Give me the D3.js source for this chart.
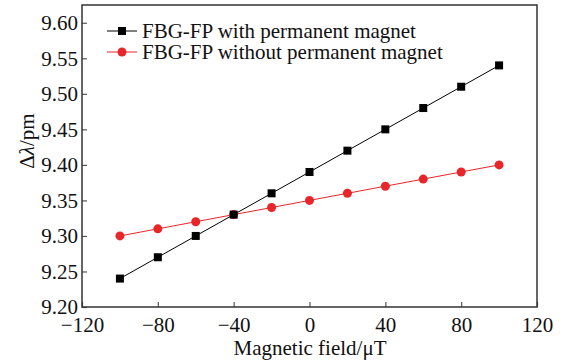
<!DOCTYPE html>
<html>
<head>
<meta charset="utf-8">
<script src="https://cdn.jsdelivr.net/npm/d3@7"></script>
<style>
body{margin:0;background:#fff}
svg{display:block}
text{font-family:"Liberation Serif","Times New Roman",serif;fill:#111}
</style>
</head>
<body>
<script>
var field = [-100, -80, -60, -40, -20, 0, 20, 40, 60, 80, 100];
var withMagnet = [9.24, 9.27, 9.30, 9.33, 9.36, 9.39, 9.42, 9.45, 9.48, 9.51, 9.54];
var withoutMagnet = [9.30, 9.31, 9.32, 9.33, 9.34, 9.35, 9.36, 9.37, 9.38, 9.39, 9.40];
var xTicks = [-120, -80, -40, 0, 40, 80, 120];
var yTicks = [9.20, 9.25, 9.30, 9.35, 9.40, 9.45, 9.50, 9.55, 9.60];
var seriesNames = ["FBG-FP with permanent magnet", "FBG-FP without permanent magnet"];

var W = 570, H = 362,
    L = 82, R = 537, T = 5, B = 307,
    fs = 21;

var svg = d3.select("body").append("svg").attr("width", W).attr("height", H);

var x = d3.scaleLinear().domain([-120, 120]).range([L, R]);
var y = d3.scaleLinear().domain([9.20, 9.625]).range([B, T]);

// axes, ticks inward
var xAxis = svg.append("g").attr("transform", "translate(0," + B + ")")
    .call(d3.axisBottom(x).tickValues(xTicks).tickSizeInner(-5).tickSizeOuter(0).tickPadding(6)
        .tickFormat(function(d){ return d < 0 ? "\u2212" + Math.abs(d) : d; }));
var yAxis = svg.append("g").attr("transform", "translate(" + L + ",0)")
    .call(d3.axisLeft(y).tickValues(yTicks).tickSizeInner(-5).tickSizeOuter(0).tickPadding(4)
        .tickFormat(d3.format(".2f")));
[xAxis, yAxis].forEach(function(g){
  g.select(".domain").remove();
  g.selectAll("line").attr("stroke", "#555").attr("stroke-width", 1.2);
  g.selectAll("text").attr("font-size", fs).attr("fill", "#111")
    .style("font-family", "'Liberation Serif', serif");
});
xAxis.selectAll("text").attr("dy", "0.9em");

svg.append("rect").attr("x", L).attr("y", T).attr("width", R - L).attr("height", B - T)
  .attr("fill", "none").attr("stroke", "#333").attr("stroke-width", 1.5);

// axis titles
svg.append("text").attr("x", 310).attr("y", 355).attr("text-anchor", "middle")
  .attr("font-size", fs).text("Magnetic field/\u03bcT");
svg.append("text").attr("transform", "translate(34,141) rotate(-90)")
  .attr("text-anchor", "middle").attr("font-size", fs)
  .html('\u0394<tspan font-style="italic">\u03bb</tspan>/pm');

var line = d3.line().x(function(d){ return x(d[0]); }).y(function(d){ return y(d[1]); });

function pts(vals){ return field.map(function(f, i){ return [f, vals[i]]; }); }

var black = "#000", red = "#e8262a";

// red series
svg.append("path").datum(pts(withoutMagnet)).attr("d", line)
  .attr("fill", "none").attr("stroke", red).attr("stroke-width", 1);
svg.selectAll(".c").data(pts(withoutMagnet)).enter().append("circle")
  .attr("cx", function(d){ return x(d[0]); }).attr("cy", function(d){ return y(d[1]); })
  .attr("r", 4.5).attr("fill", red);

// black series
svg.append("path").datum(pts(withMagnet)).attr("d", line)
  .attr("fill", "none").attr("stroke", black).attr("stroke-width", 1);
svg.selectAll(".s").data(pts(withMagnet)).enter().append("rect")
  .attr("x", function(d){ return x(d[0]) - 4; }).attr("y", function(d){ return y(d[1]) - 4; })
  .attr("width", 8).attr("height", 8).attr("fill", black);

// legend
var leg = svg.append("g");
[[black, "square"], [red, "circle"]].forEach(function(s, i){
  var ly = 31 + i * 21;
  leg.append("line").attr("x1", 107).attr("x2", 137).attr("y1", ly).attr("y2", ly)
    .attr("stroke", s[0]).attr("stroke-width", 1);
  if (s[1] === "square")
    leg.append("rect").attr("x", 118).attr("y", ly - 4).attr("width", 8).attr("height", 8).attr("fill", s[0]);
  else
    leg.append("circle").attr("cx", 122).attr("cy", ly).attr("r", 4.5).attr("fill", s[0]);
  leg.append("text").attr("x", 142).attr("y", ly + 7).attr("font-size", fs).text(seriesNames[i]);
});
</script>
</body>
</html>
